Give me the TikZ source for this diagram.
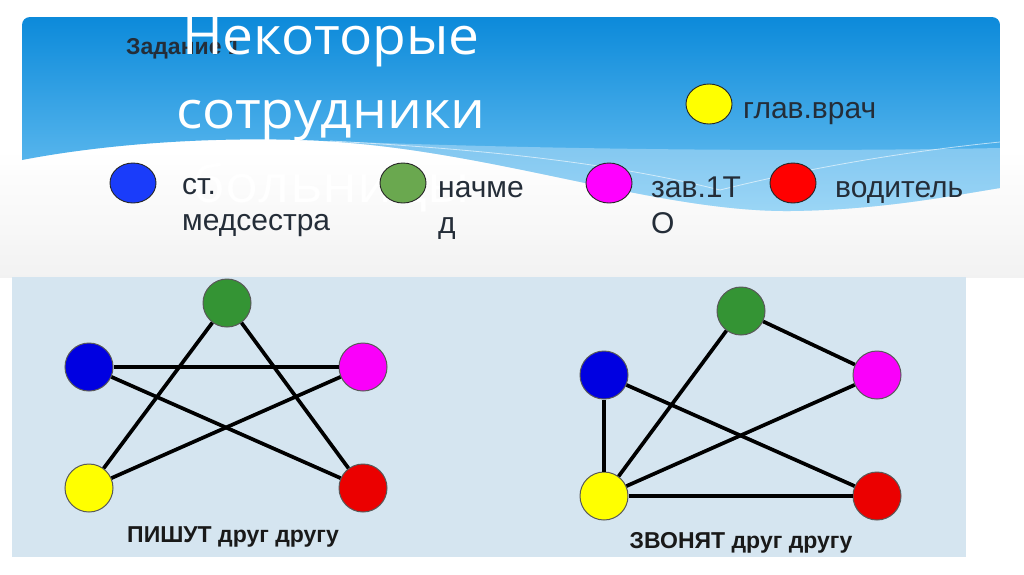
\documentclass[tikz,border=0pt]{standalone}
\usepackage{fontspec}
\setmainfont{Liberation Sans}
\newfontfamily\titlefont[FakeStretch=1.06]{Open Sans}
\usepackage{tikz}
\usetikzlibrary{positioning,shapes.geometric}

\definecolor{skytop}{RGB}{12,138,218}
\definecolor{skybot}{RGB}{112,196,243}
\definecolor{snow}{RGB}{213,229,240}
\definecolor{ink}{RGB}{36,45,56}
\definecolor{kblue}{RGB}{26,60,250}
\definecolor{kgreen}{RGB}{106,168,79}
\definecolor{kpink}{RGB}{255,0,255}
\definecolor{kred}{RGB}{255,0,0}
\definecolor{kyellow}{RGB}{255,255,0}
\definecolor{ggreen}{RGB}{52,148,52}
\definecolor{gblue}{RGB}{0,0,225}
\definecolor{gpink}{RGB}{250,0,250}
\definecolor{gred}{RGB}{235,0,0}
\definecolor{gyellow}{RGB}{255,255,0}

\tikzset{
  key/.style={ellipse, draw=black!85, line width=0.9pt, minimum width=46pt,
    minimum height=40pt, inner sep=0pt},
  keytext/.style={anchor=base west, align=left, inner sep=0pt, text=ink,
    font=\fontsize{30}{36}\selectfont},
  person/.style={circle, draw=black!65, line width=1pt, minimum size=48pt, inner sep=0pt},
  link/.style={line width=3.7pt, black},
  caption/.style={anchor=base, inner sep=0pt, text=black!90,
    font=\bfseries\fontsize{23}{28}\selectfont}
}

\begin{document}
\begin{tikzpicture}[x=1pt, y=-1pt]
  \useasboundingbox (0,0) rectangle (1024,574);
  \fill[white] (0,0) rectangle (1024,574);
  \shade[top color=white, bottom color=black!5] (0,150) rectangle (1024,277);
  % header
  \shade[top color=skytop, bottom color=skybot]
    (22,160) [rounded corners=8pt] -- (22,17) -- (1000,17) [sharp corners] -- (1000,188)
    .. controls (950,196) and (880,210) .. (790,211)
    .. controls (650,212) and (480,145) .. (300,140)
    .. controls (200,137) and (100,145) .. (22,160) -- cycle;
  \fill[white, opacity=0.3]
    (300,140) .. controls (550,150) and (800,152) .. (1000,148) -- (1000,188)
    .. controls (950,196) and (880,210) .. (790,211)
    .. controls (650,212) and (480,145) .. (300,140) -- cycle;
  \draw[white, opacity=0.6, line width=0.8pt]
    (330,141) .. controls (500,150) and (620,165) .. (720,190);
  \draw[white, opacity=0.6, line width=0.8pt]
    (720,190) .. controls (820,165) and (920,150) .. (1000,142);
  % panel
  \fill[snow] (12,277) rectangle (966,557);

  \node[anchor=base west, inner sep=0pt, text=ink, font=\bfseries\fontsize{23}{27}\selectfont]
    (task) at (126,54) {Задание 1};
  \node[anchor=base, align=center, inner sep=0pt, text=white,
    font=\titlefont\fontsize{52}{74}\selectfont] (title) at (331,202)
    {Некоторые\\сотрудники\\больницы};

  % legend
  \node[key, fill=kyellow] (k-chief) at (709,104) {};
  \node[keytext] (t-chief) at (743,118) {глав.врач};
  \node[key, fill=kblue] (k-nurse) at (133,183) {};
  \node[keytext] (t-nurse) at (182,230) {ст.\\медсестра};
  \node[key, fill=kgreen] (k-head) at (403,183) {};
  \node[keytext] (t-head) at (438,233) {начме\\д};
  \node[key, fill=kpink] (k-dept) at (609,183) {};
  \node[keytext] (t-dept) at (651,233) {зав.1Т\\О};
  \node[key, fill=kred] (k-driver) at (793,183) {};
  \node[keytext] (t-driver) at (835,197) {водитель};

  % writing graph
  \node[person, fill=ggreen] (p-green) at (227,303) {};
  \node[person, fill=gblue] (p-blue) at (89,367) {};
  \node[person, fill=gpink] (p-pink) at (363,367) {};
  \node[person, fill=gyellow] (p-yellow) at (89,488) {};
  \node[person, fill=gred] (p-red) at (363,488) {};
  \foreach \a/\b in {green/yellow, green/red, blue/pink, blue/red, pink/yellow}{%
    \draw[link] (p-\a) -- (p-\b);
  }
  \node[caption] (p-cap) at (233,542) {ПИШУТ друг другу};

  % calling graph
  \node[person, fill=ggreen] (z-green) at (741,311) {};
  \node[person, fill=gblue] (z-blue) at (604,375) {};
  \node[person, fill=gpink] (z-pink) at (877,375) {};
  \node[person, fill=gyellow] (z-yellow) at (604,496) {};
  \node[person, fill=gred] (z-red) at (877,496) {};
  \foreach \a/\b in {green/pink, green/yellow, blue/yellow, blue/red, pink/yellow, yellow/red}{%
    \draw[link] (z-\a) -- (z-\b);
  }
  \node[caption] (z-cap) at (741,548) {ЗВОНЯТ друг другу};
\end{tikzpicture}
\end{document}
